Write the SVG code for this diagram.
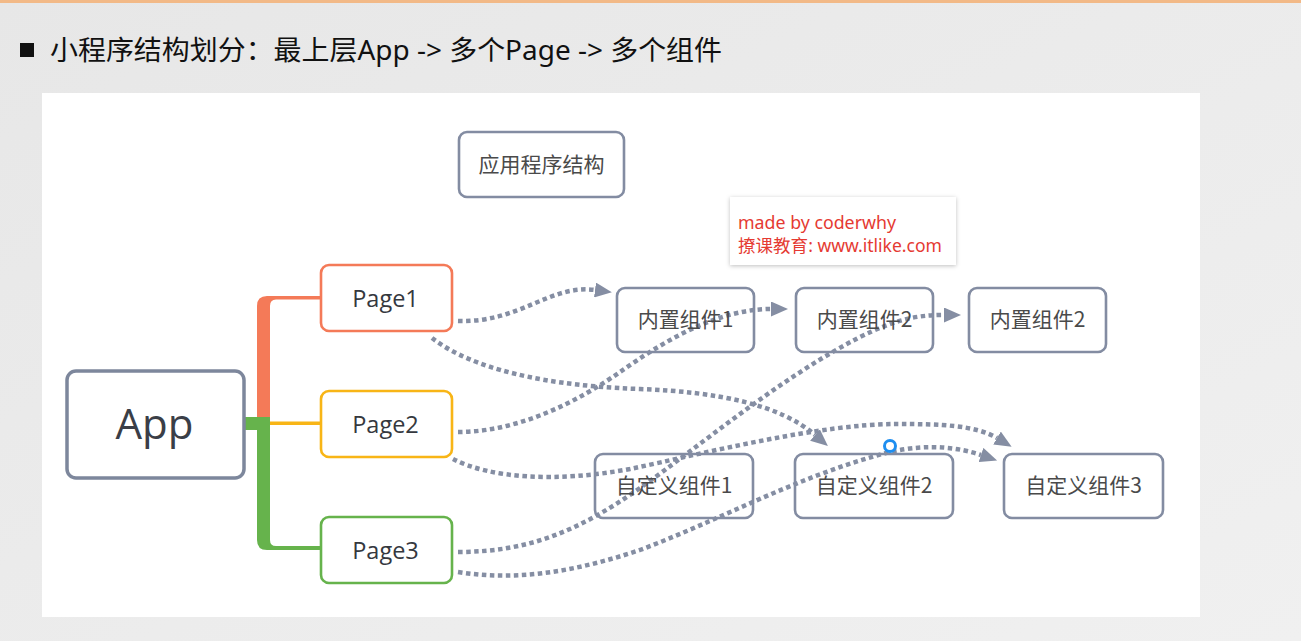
<svg xmlns="http://www.w3.org/2000/svg" width="1301" height="641" viewBox="0 0 1301 641">
  <defs>
    <linearGradient id="bg" x1="0" y1="0" x2="1" y2="1">
      <stop offset="0" stop-color="#e7e7e7"/>
      <stop offset="1" stop-color="#f0f0f0"/>
    </linearGradient>
    <filter id="shadow" x="-10%" y="-20%" width="120%" height="140%">
      <feDropShadow dx="0" dy="1" stdDeviation="2" flood-color="#000" flood-opacity="0.25"/>
    </filter>
    <marker id="arrow" viewBox="0 0 17 15" refX="0" refY="7.5" markerWidth="17" markerHeight="15" markerUnits="userSpaceOnUse" orient="auto">
      <path d="M0,0 L17,7.5 L0,15 Z" fill="#858ea3"/>
    </marker>
    <style>
      .box { fill: #ffffff; stroke: #838ca2; stroke-width: 2.6; }
      .cn { font-family: "Noto Sans CJK SC", "Noto Sans", sans-serif; font-size: 21px; fill: #4a4a4a; text-anchor: middle; }
      .pg { font-family: "Open Sans", "Noto Sans", sans-serif; font-size: 23.5px; font-weight: 500; fill: #35383e; text-anchor: middle; }
      .dot { fill: none; stroke: #858ea3; stroke-width: 4.5; stroke-dasharray: 4.5 3.5; marker-end: url(#arrow); }
      .wm { font-family: "Noto Sans", "Noto Sans CJK SC", sans-serif; font-size: 17.5px; fill: #e53a32; }
    </style>
  </defs>

  <!-- background -->
  <rect x="0" y="0" width="1301" height="641" fill="url(#bg)"/>
  <rect x="0" y="0" width="1301" height="3" fill="#f2b987"/>

  <!-- title -->
  <g id="title">
    <rect x="20" y="43" width="14" height="14" fill="#111"/>
    <text x="50" y="60" font-family="Noto Sans, Noto Sans CJK SC, sans-serif" font-size="27" fill="#111" textLength="672" lengthAdjust="spacingAndGlyphs">小程序结构划分：最上层App -&gt; 多个Page -&gt; 多个组件</text>
  </g>

  <!-- white canvas -->
  <rect x="42" y="93" width="1158" height="524" fill="#ffffff"/>

  <!-- tree branches -->
  <g id="branches">
    <path d="M257,417 L257,306 Q257,296 267,296 L321,296 L321,299.5 L276,299.5 Q270,299.5 270,306 L270,417 Z" fill="#f47a58"/>
    <rect x="270" y="421.5" width="51" height="3.5" fill="#f8b516"/>
    <path d="M245,417 L270,417 L270,540 Q270,546 276,546 L321,546 L321,550 L267,550 Q257,550 257,540 L257,430 L245,430 Z" fill="#66b34c"/>
  </g>

  <!-- dotted connectors -->
  <g id="connectors">
    <path class="dot" d="M458,321 C520,323 550,284 595,290"/>
    <path class="dot" d="M432,338 C460,360 520,385 640,389 C720,392 780,405 815,435"/>
    <path class="dot" d="M458,432 C520,432 580,400 620,372 C660,344 715,309 771,309"/>
    <path class="dot" d="M453,459 C490,478 555,483 630,469 C710,452 820,424 897,424 C940,424 975,425 997,438"/>
    <path class="dot" d="M458,552 C530,552 580,530 640,488 C700,446 780,378 860,337 C895,320 915,315 944,315"/>
    <path class="dot" d="M458,572 C520,582 580,570 640,550 C720,520 800,475 890,452 C930,443 960,448 981,455"/>
  </g>

  <g id="node-structure">
    <rect class="box" x="459" y="132" width="165" height="65" rx="8"/>
    <text class="cn" x="541.5" y="172">应用程序结构</text>
  </g>

  <g id="watermark">
    <rect x="730" y="197" width="226" height="68" fill="#ffffff" filter="url(#shadow)"/>
    <text class="wm" x="738" y="229" textLength="158" lengthAdjust="spacingAndGlyphs">made by coderwhy</text>
    <text class="wm" x="738" y="252" textLength="204" lengthAdjust="spacingAndGlyphs">撩课教育: www.itlike.com</text>
  </g>

  <g id="node-app">
    <rect x="67" y="371" width="177" height="107" rx="9" fill="#fff" stroke="#7d879c" stroke-width="3.5"/>
    <text x="154.5" y="438.5" font-family="Open Sans, Noto Sans, sans-serif" font-size="42" font-weight="500" fill="#3a3e47" text-anchor="middle">App</text>
  </g>

  <g id="node-page1">
    <rect x="321" y="265" width="131" height="66" rx="8" fill="#fff" stroke="#f47a58" stroke-width="2.6"/>
    <text class="pg" x="385.5" y="306.5">Page1</text>
  </g>
  <g id="node-page2">
    <rect x="321" y="391" width="131" height="66" rx="8" fill="#fff" stroke="#f8b516" stroke-width="2.6"/>
    <text class="pg" x="385.5" y="432.5">Page2</text>
  </g>
  <g id="node-page3">
    <rect x="321" y="517" width="131" height="66" rx="8" fill="#fff" stroke="#66b34c" stroke-width="2.6"/>
    <text class="pg" x="385.5" y="558.5">Page3</text>
  </g>

  <g id="node-builtin1">
    <rect class="box" x="617" y="288" width="137" height="64" rx="8" fill-opacity="0"/>
    <text class="cn" x="685.5" y="327">内置组件1</text>
  </g>
  <g id="node-builtin2">
    <rect class="box" x="796" y="288" width="137" height="64" rx="8" fill-opacity="0"/>
    <text class="cn" x="864.5" y="327">内置组件2</text>
  </g>
  <g id="node-builtin3">
    <rect class="box" x="969" y="288" width="137" height="64" rx="8"/>
    <text class="cn" x="1037.5" y="327">内置组件2</text>
  </g>

  <g id="node-custom1">
    <rect class="box" x="595" y="454" width="158" height="64" rx="8" fill-opacity="0"/>
    <text class="cn" x="674" y="493">自定义组件1</text>
  </g>
  <g id="node-custom2">
    <rect class="box" x="795" y="454" width="158" height="64" rx="8" fill-opacity="0"/>
    <text class="cn" x="874" y="493">自定义组件2</text>
  </g>
  <g id="node-custom3">
    <rect class="box" x="1004" y="454" width="159" height="64" rx="8"/>
    <text class="cn" x="1083.5" y="493">自定义组件3</text>
  </g>

  <circle cx="890" cy="446" r="5.5" fill="#ffffff" stroke="#1e8ef0" stroke-width="3"/>
</svg>
